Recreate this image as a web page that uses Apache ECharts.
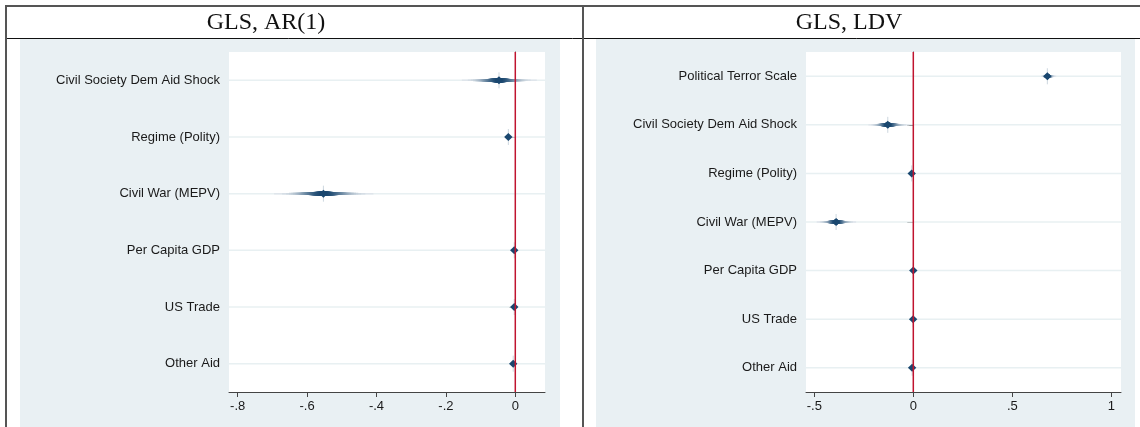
<!DOCTYPE html>
<html><head><meta charset="utf-8">
<script src="https://cdn.jsdelivr.net/npm/echarts@6/dist/echarts.min.js"></script>
<style>html,body{margin:0;padding:0;background:#fff}#c{width:1140px;height:427px}</style>
</head><body><div id="c"></div>
<script>
// ---- data ----
const leftTitle = 'GLS, AR(1)';
const rightTitle = 'GLS, LDV';
const leftCats = ['Civil Society Dem Aid Shock', 'Regime (Polity)', 'Civil War (MEPV)', 'Per Capita GDP', 'US Trade', 'Other Aid'];
const leftEst = [-0.047, -0.020, -0.553, -0.003, -0.003, -0.006];
const leftLo  = [-0.154, -0.028, -0.695, -0.006, -0.006, -0.009];
const leftHi  = [ 0.062, -0.011, -0.409,  0.000,  0.000, -0.003];
const leftTicks = [-0.8, -0.6, -0.4, -0.2, 0];

const rightCats = ['Political Terror Scale', 'Civil Society Dem Aid Shock', 'Regime (Polity)', 'Civil War (MEPV)', 'Per Capita GDP', 'US Trade', 'Other Aid'];
const rightEst = [ 0.677, -0.129, -0.008, -0.390,  0.000, -0.001, -0.006];
const rightLo  = [ 0.645, -0.227, -0.013, -0.488, -0.004, -0.005, -0.010];
const rightHi  = [ 0.722, -0.020, -0.003, -0.289,  0.004,  0.003, -0.002];
const rightTicks = [-0.5, 0, 0.5, 1];

// ---- helpers ----
const NAVY = [26, 71, 111];
function fmt(v) {
  if (Math.abs(v) < 1e-9) return '0';
  const s = String(+v.toFixed(2));
  return s.replace(/^(-?)0\./, '$1.');
}
function zOf(level) { // two-sided normal quantile (Shore approximation)
  const p = 0.5 + level / 2;
  return 5.5556 * (1 - Math.pow((1 - p) / p, 0.1186));
}
const LEVELS = [];
for (let L = 0.99; L > 0; L -= 0.02) LEVELS.push(L);
const ZMAX = zOf(0.99);
function mix(a) {
  const r = Math.round(NAVY[0] + (255 - NAVY[0]) * a);
  const g = Math.round(NAVY[1] + (255 - NAVY[1]) * a);
  const b = Math.round(NAVY[2] + (255 - NAVY[2]) * a);
  return 'rgb(' + r + ',' + g + ',' + b + ')';
}

function ciRender(params, api) {
  const est = api.value(0), pos = api.value(1), lo = api.value(2), hi = api.value(3);
  const c = api.coord([est, pos]);
  const children = [];
  LEVELS.forEach(function (L) {
    const f = zOf(L) / ZMAX;
    const x1 = api.coord([est - f * (est - lo), pos])[0];
    const x2 = api.coord([est + f * (hi - est), pos])[0];
    const lw = 1.4 + 3.6 * Math.pow(1 - L, 1.1);
    children.push({ type: 'rect', shape: { x: x1, y: c[1] - lw / 2, width: Math.max(x2 - x1, 0.5), height: lw },
      style: { fill: mix(0.88 * Math.pow(L, 2.2)) }, silent: true });
  });
  children.push({ type: 'line', shape: { x1: c[0], y1: c[1] - 8, x2: c[0], y2: c[1] + 8 },
    style: { stroke: 'rgba(26,71,111,0.22)', lineWidth: 1 }, silent: true });
  children.push({ type: 'polygon', shape: { points: [[c[0], c[1] - 4], [c[0] + 4.2, c[1]], [c[0], c[1] + 4], [c[0] - 4.2, c[1]]] },
    style: { fill: 'rgb(26,71,111)' }, silent: true });
  return { type: 'group', children: children };
}
function gridLineRender(params, api) {
  const cs = params.coordSys;
  const y = api.coord([0, api.value(0)])[1];
  return { type: 'line', shape: { x1: cs.x, y1: y, x2: cs.x + cs.width, y2: y },
    style: { stroke: '#e8f0f2', lineWidth: 1.5 }, silent: true };
}
function zeroLineRender(params, api) {
  const cs = params.coordSys;
  const x = api.coord([api.value(0), 1])[0];
  return { type: 'line', shape: { x1: x, y1: cs.y, x2: x, y2: cs.y + cs.height },
    style: { stroke: '#c0142f', lineWidth: 1.5 }, silent: true };
}

function positions(n) { const a = []; for (let i = 1; i <= n; i++) a.push(i); return a; }
function ciData(est, lo, hi) { return est.map(function (e, i) { return [e, i + 1, lo[i], hi[i]]; }); }

const labelStyle = { color: '#1a1a1a', fontSize: 13, fontFamily: 'Liberation Sans, Arial, sans-serif' };

function xAxisFor(gi, min, max, ticks) {
  return { type: 'value', gridIndex: gi, min: min, max: max,
    axisLine: { show: true, lineStyle: { color: '#444', width: 1 } },
    axisTick: { show: true, length: 5, customValues: ticks, lineStyle: { color: '#444' } },
    axisLabel: Object.assign({ customValues: ticks, margin: 8, formatter: fmt }, labelStyle),
    splitLine: { show: false } };
}
function yAxisFor(gi, cats) {
  const pos = positions(cats.length);
  return { type: 'value', gridIndex: gi, min: 0.5, max: cats.length + 0.5, inverse: true,
    axisLine: { show: true, lineStyle: { color: '#444', width: 1 } },
    axisTick: { show: true, length: 6, customValues: pos, lineStyle: { color: '#444' } },
    axisLabel: Object.assign({ customValues: pos, margin: 9,
      formatter: function (v) { return cats[Math.round(v) - 1] || ''; } }, labelStyle),
    splitLine: { show: false } };
}

const chart = echarts.init(document.getElementById('c'), null, { renderer: 'canvas', width: 1140, height: 427 });
const option = {
  animation: false,
  backgroundColor: '#fff',
  graphic: [
    { type: 'rect', z: -100, shape: { x: 20, y: 39, width: 540, height: 388 }, style: { fill: '#e9f0f3' }, silent: true },
    { type: 'rect', z: -100, shape: { x: 596, y: 39, width: 539, height: 388 }, style: { fill: '#e9f0f3' }, silent: true },
    { type: 'line', z: 100, shape: { x1: 5, y1: 6, x2: 1140, y2: 6 }, style: { stroke: '#555', lineWidth: 2 }, silent: true },
    { type: 'line', z: 100, shape: { x1: 5, y1: 38.5, x2: 1140, y2: 38.5 }, style: { stroke: '#111', lineWidth: 1 }, silent: true },
    { type: 'line', z: 100, shape: { x1: 6, y1: 5, x2: 6, y2: 427 }, style: { stroke: '#555', lineWidth: 2 }, silent: true },
    { type: 'line', z: 100, shape: { x1: 583, y1: 5, x2: 583, y2: 427 }, style: { stroke: '#555', lineWidth: 2 }, silent: true },
    { type: 'text', z: 100, x: 266, y: 23, style: { text: leftTitle, font: '24px "Liberation Serif", "DejaVu Serif", serif', fill: '#111', align: 'center', verticalAlign: 'middle' } },
    { type: 'text', z: 100, x: 849, y: 23, style: { text: rightTitle, font: '24px "Liberation Serif", "DejaVu Serif", serif', fill: '#111', align: 'center', verticalAlign: 'middle' } }
  ],
  grid: [
    { left: 229, top: 52, width: 316, height: 340, show: true, backgroundColor: '#fff', borderWidth: 0 },
    { left: 806, top: 52, width: 315, height: 340, show: true, backgroundColor: '#fff', borderWidth: 0 }
  ],
  xAxis: [ xAxisFor(0, -0.8251, 0.0856, leftTicks), xAxisFor(1, -0.542, 1.049, rightTicks) ],
  yAxis: [ yAxisFor(0, leftCats), yAxisFor(1, rightCats) ],
  series: [
    { type: 'custom', xAxisIndex: 0, yAxisIndex: 0, z: 1, renderItem: gridLineRender, data: positions(leftCats.length).map(function (p) { return [p]; }), silent: true },
    { type: 'custom', xAxisIndex: 1, yAxisIndex: 1, z: 1, renderItem: gridLineRender, data: positions(rightCats.length).map(function (p) { return [p]; }), silent: true },
    { type: 'custom', xAxisIndex: 0, yAxisIndex: 0, z: 3, renderItem: ciRender, data: ciData(leftEst, leftLo, leftHi), clip: false, silent: true },
    { type: 'custom', xAxisIndex: 1, yAxisIndex: 1, z: 3, renderItem: ciRender, data: ciData(rightEst, rightLo, rightHi), clip: false, silent: true },
    { type: 'custom', xAxisIndex: 0, yAxisIndex: 0, z: 4, renderItem: zeroLineRender, data: [[0]], silent: true },
    { type: 'custom', xAxisIndex: 1, yAxisIndex: 1, z: 4, renderItem: zeroLineRender, data: [[0]], silent: true }
  ]
};
chart.setOption(option);
</script>
</body></html>
